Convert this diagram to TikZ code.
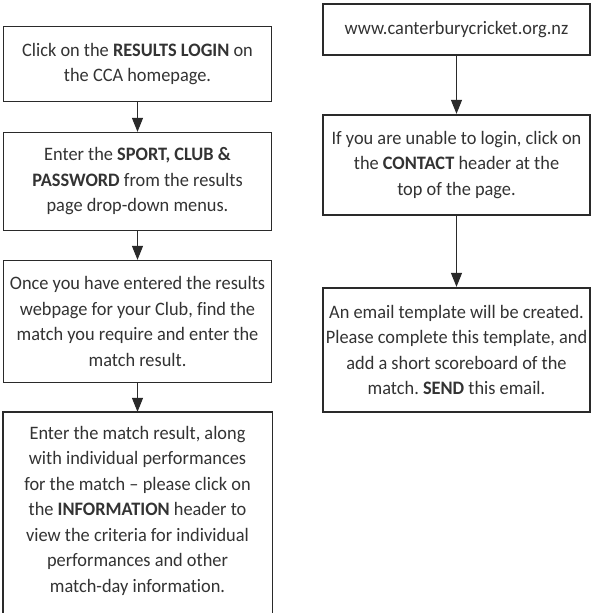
\documentclass[tikz,border=0pt]{standalone}
\usepackage{fontspec}
\setmainfont{Carlito}[Ligatures={NoCommon}, FakeStretch=0.965]
\usetikzlibrary{arrows.meta}
\definecolor{ink}{HTML}{333333}
\definecolor{edge}{HTML}{2A2A2A}
\frenchspacing
\begin{document}
\begin{tikzpicture}[x=1pt,y=-1pt]
\tikzset{
  lbox/.style={draw=edge, line width=1.3pt, minimum width=268pt, inner sep=0pt,
    align=center, text=ink, font=\fontsize{19}{25.5}\selectfont},
  rbox/.style={lbox, line width=2.3pt, minimum width=267pt},
  flow/.style={draw=edge, line width=1.1pt, -{Triangle[width=11pt,length=14pt]}}
}
\clip (0,0) rectangle (593,613);
\fill[white] (0,0) rectangle (593,613);

% left column
\node[lbox, minimum height=75pt] (b1) at (137.5,64)
  {Click on the \textbf{RESULTS LOGIN} on\\the CCA homepage.};
\node[lbox, minimum height=98pt] (b2) at (137.5,181.5)
  {Enter the \textbf{SPORT, CLUB \&}\\\textbf{PASSWORD} from the results\\page drop-down menus.};
\node[lbox, minimum height=122pt] (b3) at (137.5,321.5)
  {Once you have entered the results\\webpage for your Club, find the\\match you require and enter the\\match result.};
\node[lbox, draw=none, minimum height=196pt] (b4) at (137.5,510.5)
  {Enter the match result, along\\with individual performances\\for the match – please click on\\the \textbf{INFORMATION} header to\\view the criteria for individual\\performances and other\\match-day information.};
\draw[edge, line width=1.3pt] ([yshift=-30pt]b4.south west) -- (b4.north west)
  -- (b4.north east) -- ([yshift=-30pt]b4.south east);

% right column
\node[rbox, minimum height=51pt] (r1) at (456.5,29.5)
  {www.canterburycricket.org.nz};
\node[rbox, minimum height=100pt] (r2) at (456.5,165)
  {If you are unable to login, click on\\the \textbf{CONTACT} header at the\\top of the page.};
\node[rbox, minimum height=124pt] (r3) at (456.5,350)
  {An email template will be created.\\Please complete this template, and\\add a short scoreboard of the\\match. \textbf{SEND} this email.};

% connectors
\draw[flow] (b1) -- (b2);
\draw[flow] (b2) -- (b3);
\draw[flow] (b3) -- (b4.north);
\draw[flow] (r1) -- (r2);
\draw[flow] (r2) -- (r3);
\end{tikzpicture}
\end{document}
